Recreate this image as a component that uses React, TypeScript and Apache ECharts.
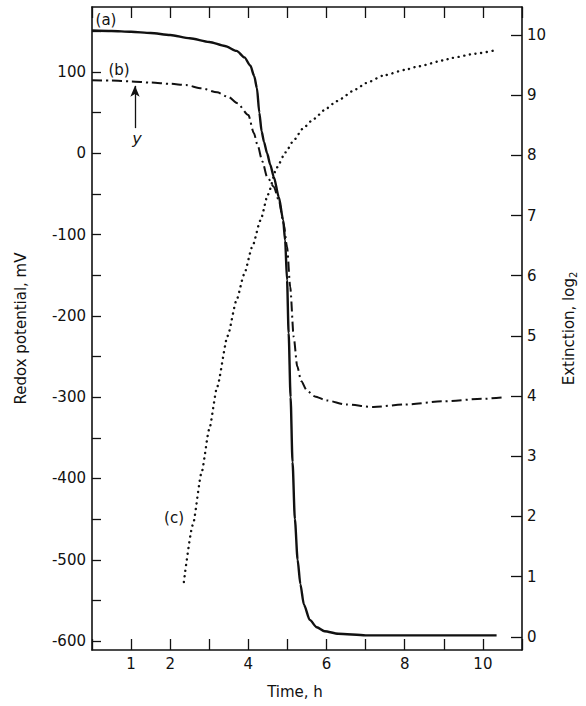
import React, { useEffect, useRef } from "react";
import * as echarts from "echarts";

// Curve (a): redox potential, solid line (mV)
const TIME_A = [0, 0.5, 1, 1.5, 2, 2.5, 3, 3.4, 3.7, 3.9, 4.05, 4.15, 4.22, 4.28, 4.34, 4.4, 4.48, 4.56, 4.65, 4.78, 4.89, 4.94, 4.99, 5.03, 5.08, 5.13, 5.19, 5.26, 5.33, 5.42, 5.57, 5.75, 5.95, 6.3, 7, 8, 9, 10, 10.35];
const REDOX_A = [151, 150.5, 149.5, 148, 145.5, 141.5, 137, 132, 126, 118, 108, 95, 80, 50, 27, 14, 0, -14, -29, -54, -82, -107, -156, -221, -300, -380, -450, -500, -530, -555, -574, -583, -588, -591, -593, -593, -593, -593, -593];

// Curve (b): redox potential, dash-dot line (mV)
const TIME_B = [0, 0.5, 1, 1.5, 2, 2.4, 2.8, 3.2, 3.5, 3.72, 4.0, 4.14, 4.23, 4.36, 4.48, 4.65, 4.78, 4.9, 4.99, 5.07, 5.16, 5.25, 5.35, 5.5, 5.7, 6, 6.5, 7.2, 8, 9, 10, 10.55];
const REDOX_B = [90, 89.5, 88.5, 87, 85.5, 84, 80, 75, 69, 61.5, 47, 25, 11, -10, -29, -41, -58, -86, -115, -164, -226, -262, -280, -292, -299, -304, -309, -312, -309, -305, -302, -300];

// Curve (c): extinction, log2, dotted line
const TIME_C = [2.35, 2.58, 2.8, 3.0, 3.2, 3.47, 3.7, 3.89, 4.1, 4.31, 4.5, 4.73, 4.95, 5.16, 5.4, 5.66, 6.0, 6.25, 6.76, 7.0, 7.47, 8.0, 8.35, 9.0, 9.21, 9.8, 10.34];
const EXT_C = [0.91, 1.86, 2.72, 3.45, 4.15, 5.0, 5.6, 6.02, 6.48, 6.92, 7.35, 7.8, 8.05, 8.25, 8.45, 8.6, 8.78, 8.9, 9.1, 9.2, 9.33, 9.42, 9.48, 9.58, 9.62, 9.69, 9.75];

const X_LABELS = [1, 2, 4, 6, 8, 10];

const FONT = "DejaVu Sans";
const INK = "#111111";

const zip = (xs: number[], ys: number[]) => xs.map((x, i) => [x, ys[i]]);

export default function App() {
  const ref = useRef<HTMLDivElement>(null);

  useEffect(() => {
    if (!ref.current) return;
    const chart = echarts.init(ref.current, null, { renderer: "svg" });
    const axisLine = { show: true, onZero: false, lineStyle: { color: INK, width: 1.6 } };
    const labelStyle = { color: INK, fontFamily: FONT, fontSize: 15 };
    chart.setOption({
      animation: false,
      backgroundColor: "#ffffff",
      grid: { left: 92, right: 58, top: 7, bottom: 56, containLabel: false },
      xAxis: [
        {
          type: "value",
          position: "bottom",
          min: 0,
          max: 11,
          interval: 1,
          splitLine: { show: false },
          axisLine,
          axisTick: { show: true, inside: true, length: 11, lineStyle: { color: INK, width: 1.3 } },
          axisLabel: {
            ...labelStyle,
            margin: 6,
            formatter: (v: number) => (X_LABELS.includes(v) ? String(v) : ""),
          },
          name: "Time, h",
          nameLocation: "middle",
          nameGap: 34,
          nameTextStyle: { ...labelStyle, padding: [0, 24, 0, 0] },
        },
        {
          type: "value",
          position: "top",
          min: 0,
          max: 11,
          interval: 1,
          splitLine: { show: false },
          axisLine,
          axisTick: { show: true, inside: true, length: 11, lineStyle: { color: INK, width: 1.3 } },
          axisLabel: { show: false },
        },
      ],
      yAxis: [
        {
          type: "value",
          position: "left",
          min: -611,
          max: 180,
          splitNumber: 16,
          splitLine: { show: false },
          axisLine,
          axisTick: { show: true, inside: true, length: 9, lineStyle: { color: INK, width: 1.3 } },
          axisLabel: {
            ...labelStyle,
            margin: 6,
            showMinLabel: false,
            showMaxLabel: false,
            formatter: (v: number) => (Math.round(v) === v && v % 100 === 0 ? String(v) : ""),
          },
          name: "Redox potential, mV",
          nameLocation: "middle",
          nameRotate: 90,
          nameGap: 64,
          nameTextStyle: { ...labelStyle },
        },
        {
          type: "value",
          position: "right",
          min: -0.22,
          max: 10.466,
          splitNumber: 10,
          splitLine: { show: false },
          axisLine,
          axisTick: { show: true, inside: true, length: 11, lineStyle: { color: INK, width: 1.3 } },
          axisLabel: {
            ...labelStyle,
            margin: 5,
            showMinLabel: false,
            showMaxLabel: false,
            formatter: (v: number) => (Number.isInteger(v) ? String(v) : ""),
          },
          name: "Extinction, log{sub|2}",
          nameLocation: "middle",
          nameRotate: 90,
          nameGap: 38,
          nameTextStyle: {
            ...labelStyle,
            rich: { sub: { fontFamily: FONT, fontSize: 10, color: INK, padding: [8, 0, 0, 0] } },
          },
        },
      ],
      series: [
        {
          name: "(a)",
          type: "line",
          xAxisIndex: 0,
          yAxisIndex: 0,
          data: zip(TIME_A, REDOX_A),
          showSymbol: false,
          smooth: 0.25,
          smoothMonotone: "x",
          lineStyle: { color: INK, width: 2.4 },
        },
        {
          name: "(b)",
          type: "line",
          xAxisIndex: 0,
          yAxisIndex: 0,
          data: zip(TIME_B, REDOX_B),
          showSymbol: false,
          smooth: 0.25,
          smoothMonotone: "x",
          lineStyle: { color: INK, width: 2, type: [10, 4, 2, 4] },
          markLine: {
            silent: true,
            symbol: ["none", "arrow"],
            symbolSize: [7, 11],
            label: { show: false },
            lineStyle: { color: INK, width: 1.3, type: "solid" },
            data: [[{ coord: [1.1, 31] }, { coord: [1.1, 83] }]],
          },
        },
        {
          name: "(c)",
          type: "line",
          xAxisIndex: 0,
          yAxisIndex: 1,
          data: zip(TIME_C, EXT_C),
          showSymbol: false,
          smooth: 0.2,
          smoothMonotone: "x",
          lineStyle: { color: INK, width: 2.4, type: [0.1, 5.6], cap: "round" },
        },
      ],
      graphic: [
        { type: "text", x: 106, y: 20, style: { text: "(a)", font: `15px "${FONT}"`, fill: INK, align: "center", verticalAlign: "middle" } },
        { type: "text", x: 119, y: 70, style: { text: "(b)", font: `15px "${FONT}"`, fill: INK, align: "center", verticalAlign: "middle" } },
        { type: "text", x: 174, y: 518, style: { text: "(c)", font: `15px "${FONT}"`, fill: INK, align: "center", verticalAlign: "middle" } },
        { type: "text", x: 137, y: 138, style: { text: "y", font: `italic 16px "${FONT}"`, fill: INK, align: "center", verticalAlign: "middle" } },
      ],
    });
    return () => chart.dispose();
  }, []);

  return (
    <div
      ref={ref}
      style={{ position: "fixed", left: 0, top: 0, width: 586, height: 706, background: "#fff" }}
    />
  );
}
